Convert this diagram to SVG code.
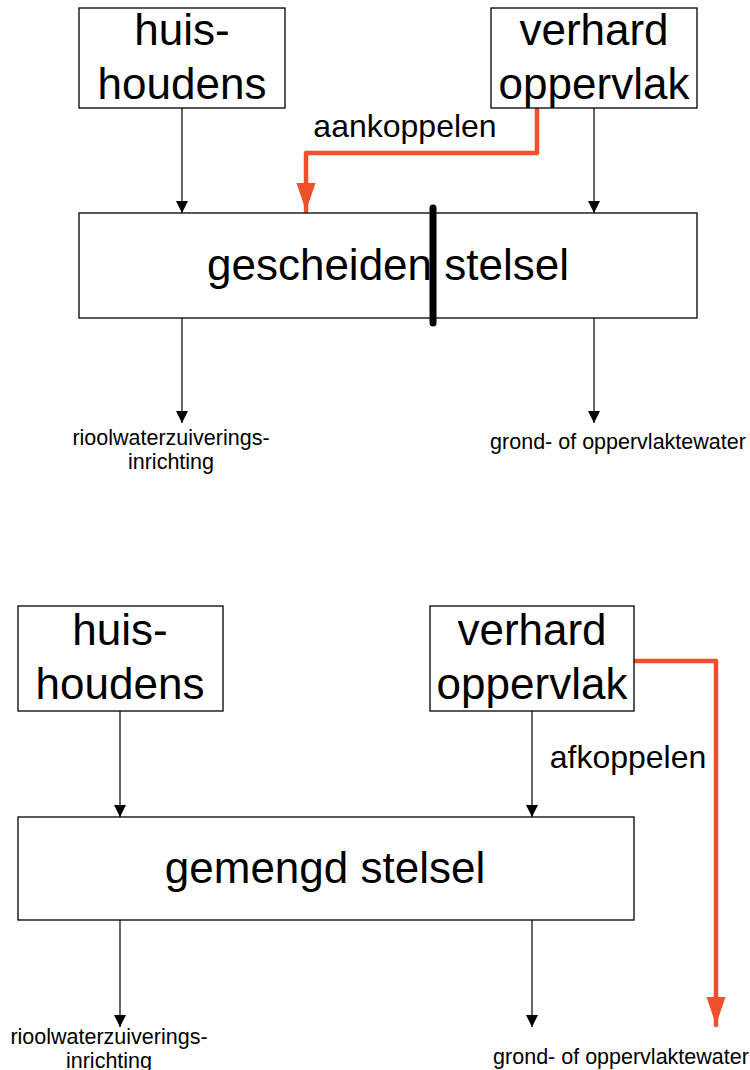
<svg xmlns="http://www.w3.org/2000/svg" width="750" height="1070" viewBox="0 0 750 1070">
  <style>
    .box { fill: #ffffff; stroke: #000000; stroke-width: 1.3; }
    .big { font-family: "Liberation Sans", Arial, sans-serif; font-size: 44px; fill: #000000; text-anchor: middle; }
    .mid { font-family: "Liberation Sans", Arial, sans-serif; font-size: 32px; fill: #000000; text-anchor: middle; }
    .small { font-family: "Liberation Sans", Arial, sans-serif; font-size: 21.5px; fill: #000000; text-anchor: middle; }
    .flow { fill: none; stroke: #000000; stroke-width: 1.2; marker-end: url(#arrowBlack); }
    .red { fill: none; stroke: #f04f2c; stroke-width: 4.5; stroke-linejoin: round; stroke-linecap: round; marker-end: url(#arrowRed); }
  </style>
  <defs>
    <marker id="arrowBlack" viewBox="0 0 12 18" refX="12" refY="9" markerWidth="12" markerHeight="18" markerUnits="userSpaceOnUse" orient="auto">
      <path d="M0,3 L12,9 L0,15 Z" fill="#000000"/>
    </marker>
    <marker id="arrowRed" viewBox="0 0 30 20" refX="28" refY="10" markerWidth="30" markerHeight="20" markerUnits="userSpaceOnUse" orient="auto">
      <path d="M0,0.5 L28,10 L0,19.5 Z" fill="#f04f2c"/>
    </marker>
  </defs>
  <rect width="750" height="1070" fill="#ffffff"/>

  <!-- connectors -->
  <g id="connectors">
    <!-- separated system -->
    <line class="flow" x1="182" y1="108" x2="182" y2="213"/>
    <line class="flow" x1="594" y1="108" x2="594" y2="213"/>
    <line class="flow" x1="182" y1="318" x2="182" y2="423"/>
    <line class="flow" x1="594" y1="318" x2="594" y2="423"/>
    <path class="red" d="M537,109 L537,153 L306,153 L306,211"/>
    <text class="mid" x="405" y="137">aankoppelen</text>
    <!-- combined system -->
    <line class="flow" x1="120" y1="711" x2="120" y2="817"/>
    <line class="flow" x1="532" y1="711" x2="532" y2="817"/>
    <line class="flow" x1="120" y1="920" x2="120" y2="1027"/>
    <line class="flow" x1="532" y1="920" x2="532" y2="1027"/>
    <path class="red" d="M635,661 L716,661 L716,1025"/>
    <text class="mid" x="628" y="768">afkoppelen</text>
  </g>

  <!-- separated system, top -->
  <g id="huishoudens-1">
    <rect class="box" x="79" y="8" width="206" height="100"/>
    <text class="big" x="182" y="45">huis-</text>
    <text class="big" x="182" y="99">houdens</text>
  </g>
  <g id="verhard-1">
    <rect class="box" x="491" y="8" width="206" height="100"/>
    <text class="big" x="594" y="45">verhard</text>
    <text class="big" x="594" y="99">oppervlak</text>
  </g>
  <g id="gescheiden-stelsel">
    <rect class="box" x="79" y="213" width="618" height="105"/>
    <text class="big" x="388" y="280">gescheiden stelsel</text>
    <line x1="433" y1="208" x2="433" y2="323" stroke="#000000" stroke-width="7" stroke-linecap="round"/>
  </g>
  <g id="rwzi-1">
    <text class="small" x="171" y="445">rioolwaterzuiverings-</text>
    <text class="small" x="171" y="469">inrichting</text>
  </g>
  <g id="oppervlaktewater-1">
    <text class="small" x="618" y="449">grond- of oppervlaktewater</text>
  </g>

  <!-- combined system, bottom -->
  <g id="huishoudens-2">
    <rect class="box" x="18" y="606" width="205" height="105"/>
    <text class="big" x="120" y="645">huis-</text>
    <text class="big" x="120" y="699">houdens</text>
  </g>
  <g id="verhard-2">
    <rect class="box" x="430" y="606" width="204" height="105"/>
    <text class="big" x="532" y="645">verhard</text>
    <text class="big" x="532" y="699">oppervlak</text>
  </g>
  <g id="gemengd-stelsel">
    <rect class="box" x="18" y="817" width="616" height="103"/>
    <text class="big" x="325" y="883">gemengd stelsel</text>
  </g>
  <g id="rwzi-2">
    <text class="small" x="109" y="1044">rioolwaterzuiverings-</text>
    <text class="small" x="109" y="1068">inrichting</text>
  </g>
  <g id="oppervlaktewater-2">
    <text class="small" x="621" y="1064">grond- of oppervlaktewater</text>
  </g>
</svg>
